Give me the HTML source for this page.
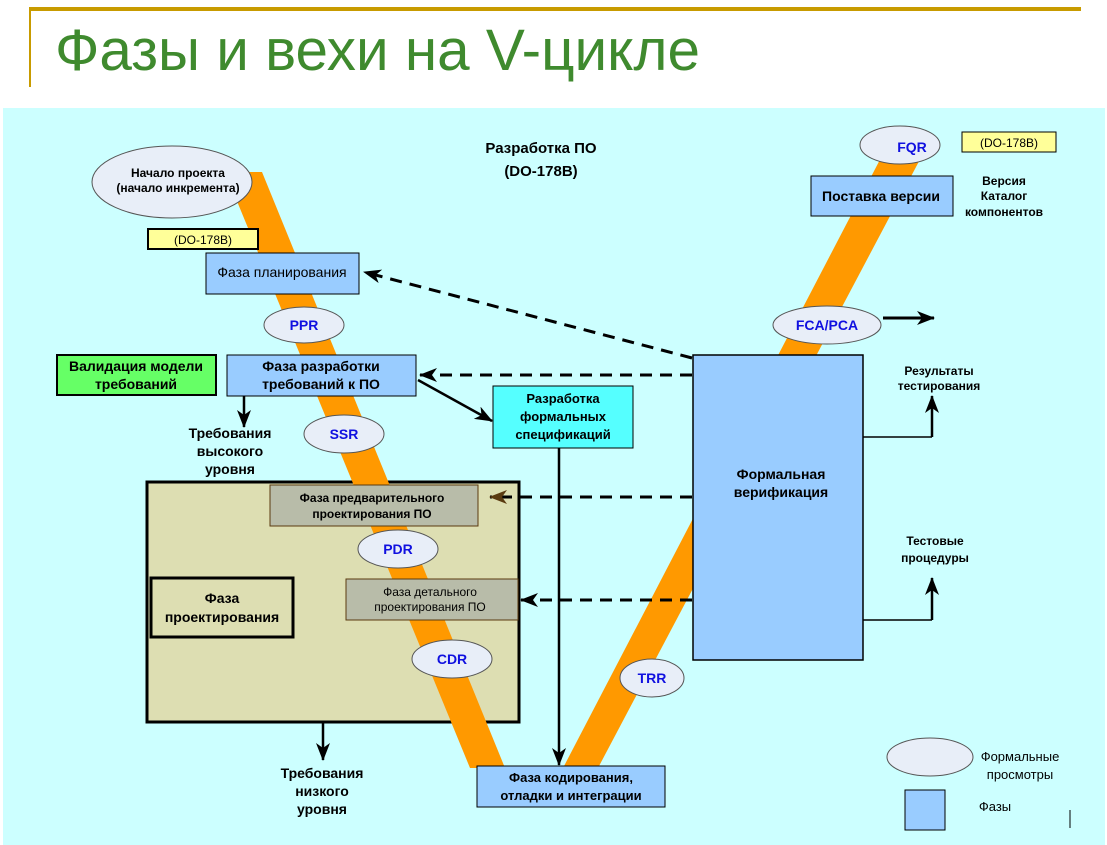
<!DOCTYPE html>
<html><head><meta charset="utf-8"><style>
html,body{margin:0;padding:0;background:#fff;}
svg{display:block;}
text{font-family:"Liberation Sans",sans-serif;}
</style></head><body>
<svg width="1107" height="845" viewBox="0 0 1107 845" xmlns="http://www.w3.org/2000/svg">
<defs>
<marker id="ahb" markerWidth="18" markerHeight="14" refX="17" refY="7" orient="auto" markerUnits="userSpaceOnUse"><path d="M0,0 L18,7 L0,14 L5,7 z" fill="#000"/></marker>
<marker id="ahbr" markerWidth="18" markerHeight="14" refX="17" refY="7" orient="auto" markerUnits="userSpaceOnUse"><path d="M0,0 L18,7 L0,14 L5,7 z" fill="#5a3a10"/></marker>
</defs>
<rect x="0" y="0" width="1107" height="845" fill="#fff"/>
<rect x="30" y="7" width="1051" height="4" fill="#c89b00"/>
<rect x="29" y="7" width="2" height="80" fill="#c89b00"/>
<text x="55" y="70" font-size="58" fill="#3f8a2e" textLength="645" lengthAdjust="spacingAndGlyphs">Фазы и вехи на V-цикле</text>
<rect x="3" y="108" width="1102" height="737" fill="#ccffff"/>

<polygon points="885,150 925,150 598,768 563,768" fill="#ff9900"/>

<rect x="147" y="482" width="372" height="240" fill="#dddeb2" stroke="#000" stroke-width="3"/>
<polygon points="225,172 262,172 505,768 470,768" fill="#ff9900"/>
<rect x="151" y="578" width="142" height="59" fill="none" stroke="#000" stroke-width="3"/>
<text x="222" y="603" font-size="14" font-weight="bold" text-anchor="middle">Фаза</text>
<text x="222" y="622" font-size="14" font-weight="bold" text-anchor="middle">проектирования</text>

<rect x="270" y="485" width="208" height="41" fill="#b8bca9" stroke="#5a3a10"/>
<text x="372" y="502" font-size="12" font-weight="bold" text-anchor="middle">Фаза предварительного</text>
<text x="372" y="518" font-size="12" font-weight="bold" text-anchor="middle">проектирования  ПО</text>
<rect x="346" y="579" width="172" height="41" fill="#b8bca9" stroke="#5a3a10"/>
<text x="430" y="596" font-size="12" text-anchor="middle">Фаза детального</text>
<text x="430" y="611" font-size="12" text-anchor="middle">проектирования  ПО</text>

<g fill="#e8eef8" stroke="#555">
<ellipse cx="172" cy="182" rx="80" ry="36"/>
<ellipse cx="304" cy="325" rx="40" ry="18"/>
<ellipse cx="344" cy="434" rx="40" ry="19"/>
<ellipse cx="398" cy="549" rx="40" ry="19"/>
<ellipse cx="452" cy="659" rx="40" ry="19"/>
<ellipse cx="652" cy="678" rx="32" ry="19"/>
<ellipse cx="900" cy="145" rx="40" ry="19"/>
<ellipse cx="827" cy="325" rx="54" ry="19"/>
<ellipse cx="930" cy="757" rx="43" ry="19"/>
</g>
<g font-size="14" font-weight="bold" fill="#1010e0" text-anchor="middle">
<text x="304" y="330">PPR</text>
<text x="344" y="439">SSR</text>
<text x="398" y="554">PDR</text>
<text x="452" y="664">CDR</text>
<text x="652" y="683">TRR</text>
<text x="912" y="152">FQR</text>
<text x="827" y="330">FCA/PCA</text>
</g>
<text x="178" y="177" font-size="12" font-weight="bold" text-anchor="middle">Начало проекта</text>
<text x="178" y="192" font-size="12" font-weight="bold" text-anchor="middle">(начало инкремента)</text>

<rect x="148" y="229" width="110" height="20" fill="#ffff99" stroke="#000" stroke-width="2"/>
<text x="203" y="244" font-size="12" text-anchor="middle">(DO-178B)</text>
<rect x="962" y="132" width="94" height="20" fill="#ffff99" stroke="#000"/>
<text x="1009" y="147" font-size="12" text-anchor="middle">(DO-178B)</text>

<rect x="206" y="253" width="153" height="41" fill="#99ccff" stroke="#000"/>
<text x="282" y="277" font-size="14" text-anchor="middle">Фаза планирования</text>

<rect x="57" y="355" width="159" height="40" fill="#66ff66" stroke="#000" stroke-width="2"/>
<text x="136" y="371" font-size="14" font-weight="bold" text-anchor="middle">Валидация модели</text>
<text x="136" y="389" font-size="14" font-weight="bold" text-anchor="middle">требований</text>

<rect x="227" y="355" width="189" height="41" fill="#99ccff" stroke="#000"/>
<text x="321" y="371" font-size="14" font-weight="bold" text-anchor="middle">Фаза разработки</text>
<text x="321" y="389" font-size="14" font-weight="bold" text-anchor="middle">требований к ПО</text>

<line x1="244" y1="396" x2="244" y2="427" stroke="#000" stroke-width="2.5" marker-end="url(#ahb)"/>
<g font-size="14" font-weight="bold" text-anchor="middle">
<text x="230" y="438">Требования</text>
<text x="230" y="456">высокого</text>
<text x="230" y="474">уровня</text>
<text x="322" y="778">Требования</text>
<text x="322" y="796">низкого</text>
<text x="322" y="814">уровня</text>
<text x="541" y="153" font-size="15">Разработка ПО</text>
<text x="541" y="176" font-size="15">(DO-178B)</text>
</g>
<line x1="323" y1="723" x2="323" y2="760" stroke="#000" stroke-width="2.5" marker-end="url(#ahb)"/>

<rect x="493" y="386" width="140" height="62" fill="#55ffff" stroke="#000"/>
<g font-size="13" font-weight="bold" text-anchor="middle">
<text x="563" y="403">Разработка</text>
<text x="563" y="421">формальных</text>
<text x="563" y="439">спецификаций</text>
</g>
<line x1="418" y1="380" x2="492" y2="421" stroke="#000" stroke-width="2.5" marker-end="url(#ahb)"/>
<line x1="559" y1="448" x2="559" y2="765" stroke="#000" stroke-width="2.5" marker-end="url(#ahb)"/>

<rect x="477" y="766" width="188" height="41" fill="#99ccff" stroke="#000"/>
<text x="571" y="782" font-size="13" font-weight="bold" text-anchor="middle">Фаза кодирования,</text>
<text x="571" y="800" font-size="13" font-weight="bold" text-anchor="middle">отладки и интеграции</text>

<rect x="811" y="176" width="142" height="40" fill="#99ccff" stroke="#000"/>
<text x="881" y="201" font-size="14" font-weight="bold" text-anchor="middle">Поставка версии</text>
<g font-size="12" font-weight="bold" text-anchor="middle">
<text x="1004" y="185">Версия</text>
<text x="1004" y="200">Каталог</text>
<text x="1004" y="216">компонентов</text>
<text x="939" y="375">Результаты</text>
<text x="939" y="390">тестирования</text>
<text x="935" y="545">Тестовые</text>
<text x="935" y="562">процедуры</text>
</g>
<line x1="883" y1="318" x2="934" y2="318" stroke="#000" stroke-width="3" marker-end="url(#ahb)"/>

<rect x="693" y="355" width="170" height="305" fill="#99ccff" stroke="#000" stroke-width="1.5"/>
<text x="781" y="479" font-size="14" font-weight="bold" text-anchor="middle">Формальная</text>
<text x="781" y="497" font-size="14" font-weight="bold" text-anchor="middle">верификация</text>
<polyline points="863,437 932,437" fill="none" stroke="#000" stroke-width="1.5"/>
<line x1="932" y1="437" x2="932" y2="396" stroke="#000" stroke-width="2.5" marker-end="url(#ahb)"/>
<polyline points="863,620 932,620" fill="none" stroke="#000" stroke-width="1.5"/>
<line x1="932" y1="620" x2="932" y2="578" stroke="#000" stroke-width="2.5" marker-end="url(#ahb)"/>

<g stroke="#000" stroke-width="3" stroke-dasharray="12,8" fill="none">
<line x1="692" y1="358" x2="364" y2="272" marker-end="url(#ahb)"/>
<line x1="692" y1="375" x2="420" y2="375" marker-end="url(#ahb)"/>
<line x1="692" y1="497" x2="490" y2="497" marker-end="url(#ahbr)"/>
<line x1="692" y1="600" x2="521" y2="600" marker-end="url(#ahb)"/>
</g>

<rect x="905" y="790" width="40" height="40" fill="#99ccff" stroke="#000"/>
<text x="1020" y="761" font-size="13" text-anchor="middle">Формальные</text>
<text x="1020" y="779" font-size="13" text-anchor="middle">просмотры</text>
<text x="995" y="811" font-size="13" text-anchor="middle">Фазы</text>
<line x1="1070" y1="810" x2="1070" y2="828" stroke="#000"/>
</svg>
</body></html>
